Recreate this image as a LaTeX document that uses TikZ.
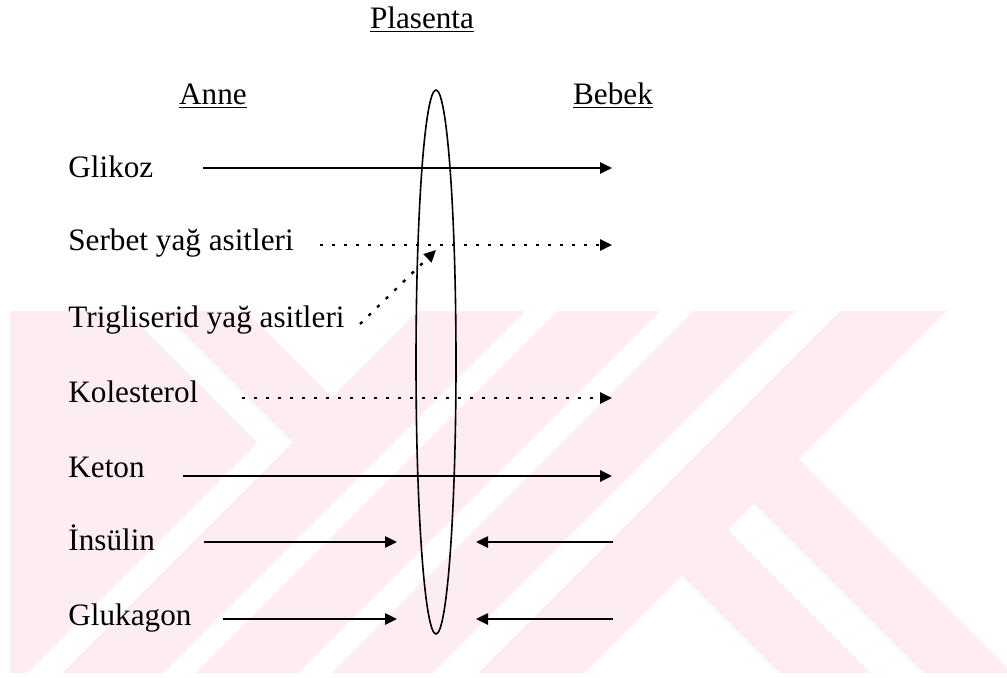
\documentclass[tikz,border=0pt]{standalone}
\usepackage{fontspec}
\setmainfont{Liberation Serif}
\usetikzlibrary{arrows.meta,shapes.geometric}
\definecolor{wmpink}{RGB}{253,236,240}
\tikzset{
lbl/.style={anchor=base west,inner sep=0pt,font=\fontsize{15.6}{18}\selectfont},
hd/.style={anchor=base,inner sep=0pt,font=\fontsize{15.6}{18}\selectfont},
ar/.style={line width=1pt,-{Triangle[length=6pt,width=5.6pt]}},
dt/.style={ar,line width=1.2pt,dash pattern=on 1.6pt off 4.4pt},
}

\begin{document}
\begin{tikzpicture}[x=0.5pt,y=-0.5pt]
\useasboundingbox (0,0) rectangle (1007,677);

%%%%%%%%%%%%%%%%%%%%%%%% background mark
\fill[wmpink] (10,311) rectangle (1007,673);
\begin{scope}
\clip (10,311) rectangle (1007,673);
\fill[white] (235,300) -- (429,300) -- (332,397) -- cycle;
\fill[white] (150,300) -- (292.5,442.5) -- (15,720) -- (-20,720) -- (257.5,442.5) -- (115,300) -- cycle;
\fill[white] (536,300) -- (568,300) -- (168,700) -- (136,700) -- cycle;
\fill[white] (671,300) -- (704,300) -- (304,700) -- (271,700) -- cycle;
\fill[white] (806,300) -- (851,300) -- (451,700) -- (406,700) -- cycle;
\fill[white] (958,300) -- (1100,300) -- (1100,760) -- (799,459) -- cycle;
\fill[white] (754,504) -- (970,720) -- (918,720) -- (728,530) -- cycle;
\fill[white] (682,576) -- (826,720) -- (538,720) -- cycle;
\end{scope}

%%%%%%%%%%%%%%%%%%%%%%%% headings
\node[hd] (plasenta) at (422,28) {\underline{Plasenta}};
\node[hd] (anne) at (213,104) {\underline{Anne}};\node[hd] (bebek) at (613,104) {\underline{Bebek}};
\node[draw,ellipse,line width=0.8pt,inner sep=0pt,minimum width=20pt,minimum height=272pt] (zar) at (436,362) {};

%%%%%%%%%%%%%%%%%%%%%%%% rows
\node[lbl] (glikoz) at (68,177) {Glikoz};
\coordinate (g1) at (203,168);\coordinate (g2) at (612,168);\draw[ar] (g1) -- (g2);

\node[lbl] (serbet) at (68,250) {Serbet yağ asitleri};
\coordinate (s1) at (320,245);\coordinate (s2) at (612,245);\draw[dt] (s1) -- (s2);

\node[lbl] (trig) at (68,327) {Trigliserid yağ asitleri};
\coordinate (t1) at (360,324);\coordinate (t2) at (436,250);\draw[dt] (t1) -- (t2);

\node[lbl] (kol) at (68,402) {Kolesterol};
\coordinate (k1) at (242,398);\coordinate (k2) at (612,398);\draw[dt] (k1) -- (k2);

\node[lbl] (keton) at (68,477) {Keton};
\coordinate (e1) at (183,476);\coordinate (e2) at (612,476);\draw[ar] (e1) -- (e2);

\node[lbl] (insulin) at (68,550) {İnsülin};
\coordinate (i1) at (204,542);\coordinate (i2) at (397,542);\draw[ar] (i1) -- (i2);
\coordinate (i3) at (613,542);\coordinate (i4) at (476,542);\draw[ar] (i3) -- (i4);

\node[lbl] (glukagon) at (68,625) {Glukagon};
\coordinate (u1) at (223,619);\coordinate (u2) at (397,619);\draw[ar] (u1) -- (u2);
\coordinate (u3) at (613,619);\coordinate (u4) at (476,619);\draw[ar] (u3) -- (u4);

\end{tikzpicture}
\end{document}
